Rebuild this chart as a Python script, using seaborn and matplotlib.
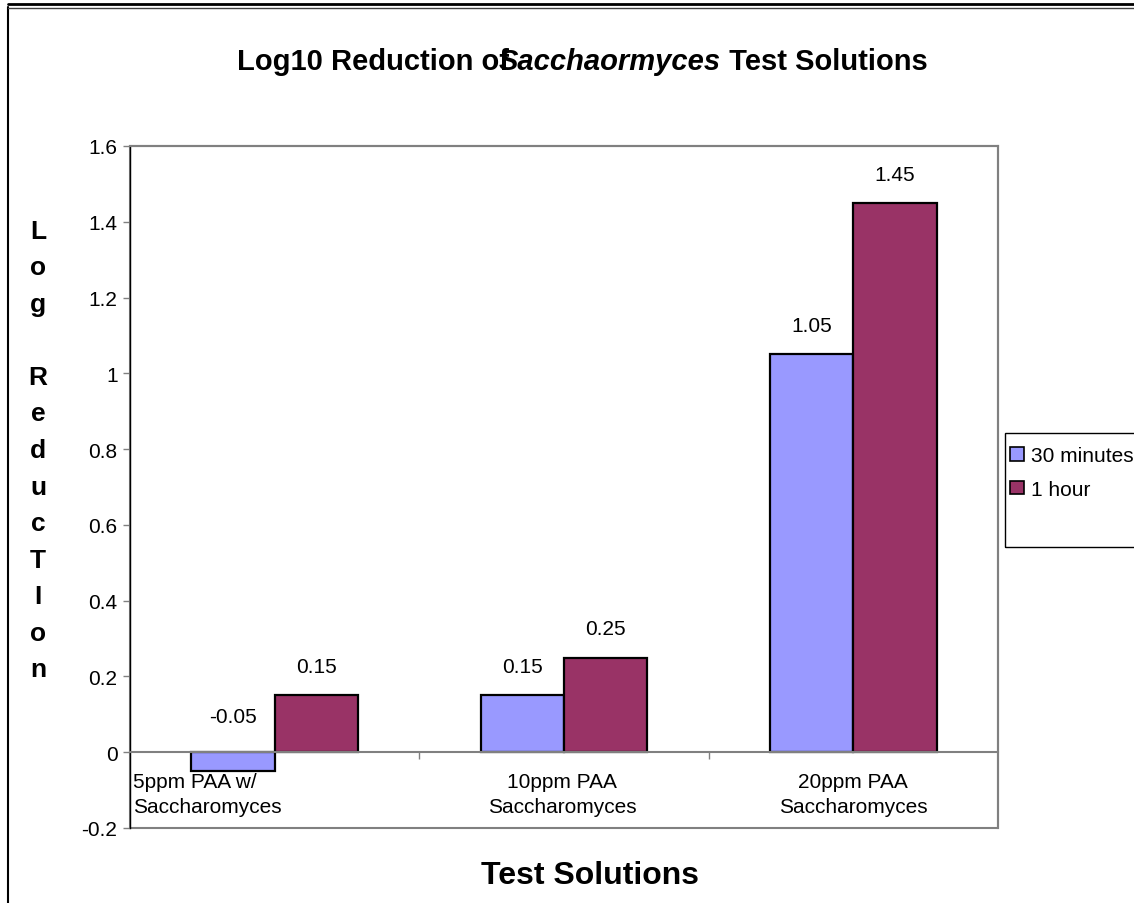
import numpy as np
import pandas as pd
import matplotlib
matplotlib.use("Agg")
import matplotlib.pyplot as plt
import matplotlib.patches as mpatches
from matplotlib.lines import Line2D
from matplotlib.transforms import ScaledTranslation
import seaborn as sns

# ---- data ----
solutions = ["5ppm PAA w/\nSaccharomyces", "10ppm PAA\nSaccharomyces", "20ppm PAA\nSaccharomyces"]
series_names = ["30 minutes", "1 hour"]
values_30min = [-0.05, 0.15, 1.05]
values_1hour = [0.15, 0.25, 1.45]
value_labels_30min = ["-0.05", "0.15", "1.05"]
value_labels_1hour = ["0.15", "0.25", "1.45"]
y_ticks = [-0.2, 0, 0.2, 0.4, 0.6, 0.8, 1.0, 1.2, 1.4, 1.6]
colors = ["#9999FF", "#993366"]

df = pd.DataFrame({
    "solution": solutions * 2,
    "value": values_30min + values_1hour,
    "time": [series_names[0]] * 3 + [series_names[1]] * 3,
})

sns.set_theme(style="white")
plt.rcParams["font.family"] = ["Liberation Sans", "DejaVu Sans"]
plt.rcParams["text.color"] = "black"
plt.rcParams["xtick.color"] = "black"
plt.rcParams["ytick.color"] = "black"

W, H = 1134, 904
fig = plt.figure(figsize=(W / 100, H / 100), dpi=100)
fig.patch.set_facecolor("white")
L, R, T, B = 130, 998, 147, 829
ax = fig.add_axes([L / W, 1 - B / H, (R - L) / W, (B - T) / H])

sns.barplot(data=df, x="solution", y="value", hue="time", order=solutions,
            hue_order=series_names, palette=colors, width=0.575,
            edgecolor="black", linewidth=1.6, saturation=1, legend=False, ax=ax)

ax.set_xlim(-0.5, 2.5)
ax.set_ylim(-0.2, 1.6)
ax.set_yticks(y_ticks)
ax.set_yticklabels([f"{v:g}" for v in y_ticks], fontsize=15)
ax.set_xlabel("")
ax.set_ylabel("")

# spines
for s in ["top", "right"]:
    ax.spines[s].set_color("#808080")
    ax.spines[s].set_linewidth(1.5)
ax.spines["left"].set_color("black")
ax.spines["left"].set_linewidth(1.0)
ax.spines["bottom"].set_position(("data", 0))
ax.spines["bottom"].set_color("#808080")
ax.spines["bottom"].set_linewidth(1.5)
ax.add_patch(mpatches.Rectangle((0, 0), 1, 1, transform=ax.transAxes, fill=False,
                                edgecolor="#808080", lw=1.5, clip_on=False, zorder=0))

ax.tick_params(axis="y", direction="out", length=5, width=1, color="#808080",
               left=True, pad=4, labelcolor="black")
ax.tick_params(axis="x", which="major", length=0, pad=14, labelsize=15, labelcolor="black")
ax.set_xticks([0.5, 1.5], minor=True)
ax.tick_params(axis="x", which="minor", direction="out", length=5, width=1,
               color="#808080", bottom=True)

# x tick label alignment like the reference
ticklabels = ax.get_xticklabels()
for tl in ticklabels:
    tl.set_linespacing(1.45)
ticklabels[0].set_ha("left")
ticklabels[0].set_multialignment("left")
ticklabels[0].set_transform(ticklabels[0].get_transform() +
                            ScaledTranslation(-1.42, 0, fig.dpi_scale_trans))
ticklabels[1].set_transform(ticklabels[1].get_transform() +
                            ScaledTranslation(-0.02, 0, fig.dpi_scale_trans))

# value labels
for cont, vals, labs in zip(ax.containers, [values_30min, values_1hour],
                            [value_labels_30min, value_labels_1hour]):
    for bar, v, lab in zip(cont.patches, vals, labs):
        xc = bar.get_x() + bar.get_width() / 2
        off = 19 if v >= 0 else 26
        ax.annotate(lab, xy=(xc, max(v, 0)), xytext=(0, off), textcoords="offset pixels",
                    ha="center", va="bottom", fontsize=15, color="black")

# title (mixed styles)
t1 = fig.text(237 / W, 1 - 70 / H, "Log10 Reduction of", fontsize=21, fontweight="bold",
              ha="left", va="baseline", color="black")
t2 = ax.annotate("Sacchaormyces", xy=(1, 0), xycoords=t1, xytext=(-10, 0),
                 textcoords="offset pixels", fontsize=21, fontweight="bold",
                 fontstyle="italic", ha="left", va="bottom", annotation_clip=False,
                 color="black")
t3 = ax.annotate(" Test Solutions", xy=(1, 0), xycoords=t2, fontsize=21, fontweight="bold",
                 ha="left", va="bottom", annotation_clip=False, color="black")

# axis titles
fig.text(590 / W, 1 - 876 / H, "Test Solutions", fontsize=23, fontweight="bold",
         ha="center", va="center", color="black")
ylab = "\n".join(list("Log") + [""] + list("ReducTIon"))
fig.text(38 / W, 1 - 451 / H, ylab, fontsize=19, fontweight="bold", ha="center",
         va="center", linespacing=1.66, color="black")

# legend
handles = [mpatches.Patch(facecolor=c, edgecolor="black", lw=1.2) for c in colors]
fig.legend(handles, series_names, loc="upper left", bbox_to_anchor=(1004 / W, 1 - 441 / H),
           frameon=False, fontsize=15, handlelength=0.65, handleheight=0.65,
           handletextpad=0.35, labelspacing=0.7, borderaxespad=0, borderpad=0.3)
fig.patches.append(mpatches.Rectangle((1005 / W, 1 - 548 / H), 200 / W, 114 / H,
                                      transform=fig.transFigure, fill=False,
                                      edgecolor="black", lw=1.0, figure=fig))

# outer frame of the chart
fig.lines.append(Line2D([8 / W, 8 / W], [0, 1 - 8 / H], transform=fig.transFigure,
                        color="black", lw=1.5, figure=fig))
fig.lines.append(Line2D([8 / W, 1], [1 - 5 / H, 1 - 5 / H], transform=fig.transFigure,
                        color="black", lw=2.0, figure=fig))
fig.lines.append(Line2D([8 / W, 1], [1 - 9 / H, 1 - 9 / H], transform=fig.transFigure,
                        color="#404040", lw=1.0, figure=fig))

fig.savefig("out.png", dpi=100)
